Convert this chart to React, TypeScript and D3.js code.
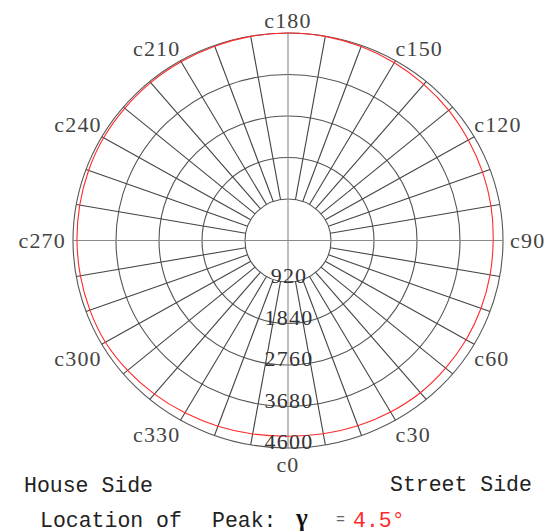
import React, { useEffect, useRef } from 'react';
import * as d3 from 'd3';

// C-plane angles (deg) and intensity
const cPlanes = [0, 10, 20, 30, 40, 50, 60, 70, 80, 90, 100, 110, 120, 130, 140, 150, 160, 170,
  180, 190, 200, 210, 220, 230, 240, 250, 260, 270, 280, 290, 300, 310, 320, 330, 340, 350];
const intensity = [4340, 4350, 4370, 4390, 4405, 4400, 4400, 4395, 4390, 4390, 4410, 4430, 4455,
  4490, 4520, 4550, 4575, 4595, 4600, 4595, 4585, 4575, 4570, 4560, 4555, 4540, 4525, 4515,
  4510, 4510, 4510, 4480, 4445, 4410, 4380, 4355];

const ringValues = [920, 1840, 2760, 3680, 4600];
const labelAngles = [0, 30, 60, 90, 120, 150, 180, 210, 240, 270, 300, 330];
const labelTexts = ['c0', 'c30', 'c60', 'c90', 'c120', 'c150', 'c180', 'c210', 'c240', 'c270', 'c300', 'c330'];
const peakValue = '4.5°';

const App: React.FC = () => {
  const svgRef = useRef<SVGSVGElement | null>(null);

  useEffect(() => {
    if (!svgRef.current) return;
    const svg = d3.select(svgRef.current);
    svg.selectAll('*').remove();

    const cx = 288;
    const cy = 240.5;
    const rx = 215; // picture is slightly squashed vertically
    const ry = 207.5;
    const maxVal = ringValues[ringValues.length - 1];

    const r = d3.scaleLinear().domain([0, maxVal]).range([0, 1]);
    const rad = (deg: number) => (deg * Math.PI) / 180;
    const px = (deg: number, v: number) => cx + rx * r(v) * Math.sin(rad(deg));
    const py = (deg: number, v: number) => cy + ry * r(v) * Math.cos(rad(deg));

    const g = svg.append('g');

    // rings
    g.selectAll('.ring')
      .data(ringValues)
      .enter()
      .append('ellipse')
      .attr('cx', cx)
      .attr('cy', cy)
      .attr('rx', (d) => rx * r(d))
      .attr('ry', (d) => ry * r(d))
      .attr('fill', 'none')
      .attr('stroke', '#555')
      .attr('stroke-width', 1.1);

    // spokes every 10 deg, main axes through the centre
    const spokes = d3.range(0, 360, 10);
    g.selectAll('.spoke')
      .data(spokes)
      .enter()
      .append('line')
      .attr('x1', (d) => (d % 90 === 0 ? cx : px(d, ringValues[0])))
      .attr('y1', (d) => (d % 90 === 0 ? cy : py(d, ringValues[0])))
      .attr('x2', (d) => px(d, maxVal))
      .attr('y2', (d) => py(d, maxVal))
      .attr('stroke', (d) => (d % 90 === 0 ? '#8a8a8a' : '#444'))
      .attr('stroke-width', 1.1);

    // intensity curve
    const pts = cPlanes.map((c, i) => [px(c, intensity[i]), py(c, intensity[i])] as [number, number]);
    g.append('path')
      .attr('d', d3.line().curve(d3.curveCardinalClosed)(pts))
      .attr('fill', 'none')
      .attr('stroke', '#ff2a2a')
      .attr('stroke-width', 1.1);

    // ring labels
    g.selectAll('.rlabel')
      .data(ringValues)
      .enter()
      .append('text')
      .attr('x', cx + 1)
      .attr('y', (d) => cy + ry * r(d) + 1)
      .attr('text-anchor', 'middle')
      .attr('font-family', 'Liberation Serif')
      .attr('font-size', 22)
      .attr('letter-spacing', 1.2)
      .attr('fill', '#333')
      .text((d) => d);

    // C-plane labels
    g.selectAll('.clabel')
      .data(labelAngles)
      .enter()
      .append('text')
      .attr('x', (d) => {
        const s = Math.sin(rad(d));
        const off = Math.abs(Math.cos(rad(d))) < 0.01 ? 7 * Math.sign(s) : 0;
        return px(d, maxVal) + off;
      })
      .attr('y', (d) => {
        const c = Math.cos(rad(d));
        const y0 = py(d, maxVal);
        if (c > 0.99) return y0 + 24;
        if (c > 0.01) return y0 + 7 + 15;
        if (c < -0.01) return y0 - 5;
        return y0 + 7;
      })
      .attr('text-anchor', (d) => {
        const s = Math.sin(rad(d));
        return s > 0.01 ? 'start' : s < -0.01 ? 'end' : 'middle';
      })
      .attr('font-family', 'Liberation Serif')
      .attr('font-size', 22)
      .attr('letter-spacing', 1.2)
      .attr('fill', '#444')
      .text((d, i) => labelTexts[i]);

    // footer
    const mono = 'Liberation Mono';
    const foot = svg.append('g').attr('font-family', mono).attr('font-size', 21.5).attr('fill', '#222');
    foot.append('text').attr('x', 24).attr('y', 492).text('House Side');
    foot.append('text').attr('x', 390).attr('y', 491).text('Street Side');
    foot.append('text').attr('x', 40).attr('y', 527).text('Location of');
    foot.append('text').attr('x', 212).attr('y', 527).text('Peak:');
    foot.append('text')
      .attr('x', 296)
      .attr('y', 526)
      .attr('font-family', 'Liberation Serif')
      .attr('font-weight', 'bold')
      .attr('font-size', 25)
      .attr('fill', '#111')
      .text('γ');
    foot.append('text').attr('x', 336).attr('y', 524).attr('font-size', 15).attr('fill', '#666').text('=');
    foot.append('text').attr('x', 353).attr('y', 527).attr('fill', '#ff2a2a').text(peakValue);
  }, []);

  return (
    <svg
      ref={svgRef}
      width={556}
      height={532}
      style={{ position: 'absolute', left: 0, top: 0, background: '#fff' }}
    ></svg>
  );
};

export default App;
